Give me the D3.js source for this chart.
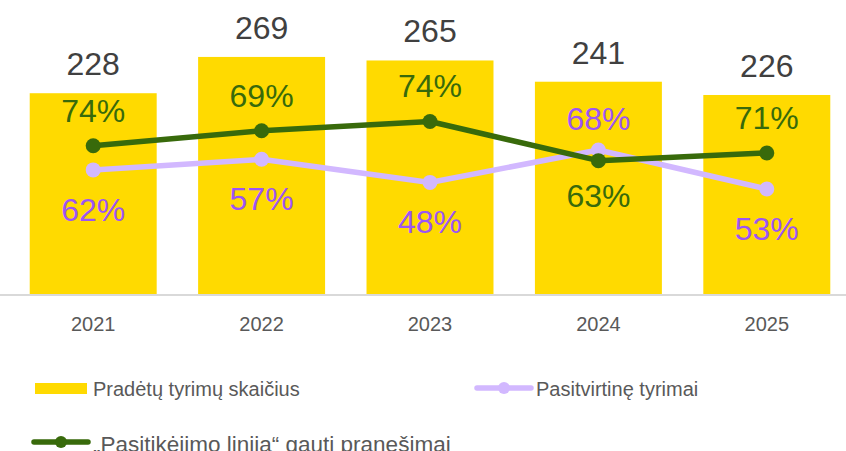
<!DOCTYPE html>
<html>
<head>
<meta charset="utf-8">
<script src="https://cdn.jsdelivr.net/npm/d3@7"></script>
<style>
  body { margin: 0; background: #fff; }
  svg { display: block; font-family: "Liberation Sans", Arial, sans-serif; }
</style>
</head>
<body>
<div id="wrapper"></div>
<script>
// data
const years = ["2021", "2022", "2023", "2024", "2025"]
const started = [228, 269, 265, 241, 226]
const trustLinePct = [74, 69, 74, 63, 71]
const confirmedPct = [62, 57, 48, 68, 53]

const legendLabels = {
  bars: "Pradėtų tyrimų skaičius",
  confirmed: "Pasitvirtinę tyrimai",
  trust: "„Pasitikėjimo linija“ gauti pranešimai"
}

const colors = {
  bar: "#FFDA00",
  green: "#386A0B",
  lavender: "#D2B8FF",
  purpleText: "#9C55F5",
  valueText: "#404040",
  axisText: "#595959",
  axisLine: "#D9D9D9"
}

const dimensions = { width: 846, height: 451, baseline: 295 }

const wrapper = d3.select("#wrapper")
  .append("svg")
    .attr("width", dimensions.width)
    .attr("height", dimensions.height)

// scales
const xScale = d3.scaleBand()
  .domain(years)
  .range([9, 851])
  .paddingInner(0.246)
  .paddingOuter(0.123)

const yScale = d3.scaleLinear()
  .domain([0, 300])
  .range([dimensions.baseline, 29.5])

const cx = y => xScale(y) + xScale.bandwidth() / 2

const rows = years.map((y, i) => ({
  year: y,
  total: started[i],
  trust: started[i] * trustLinePct[i] / 100,
  trustPct: trustLinePct[i],
  confirmed: started[i] * confirmedPct[i] / 100,
  confirmedPct: confirmedPct[i]
}))

// bars
wrapper.append("g").selectAll("rect")
  .data(rows)
  .enter().append("rect")
    .attr("x", d => xScale(d.year))
    .attr("y", d => yScale(d.total))
    .attr("width", xScale.bandwidth())
    .attr("height", d => yScale(0) - yScale(d.total))
    .attr("fill", colors.bar)

// x axis
const xAxis = wrapper.append("g")
  .attr("transform", `translate(0, ${dimensions.baseline})`)
  .call(d3.axisBottom(xScale).tickSize(0).tickPadding(22))
xAxis.select(".domain")
  .attr("stroke", colors.axisLine)
  .attr("stroke-width", 2)
  .attr("d", "M0,0H846")
xAxis.selectAll("text")
  .attr("fill", colors.axisText)
  .style("font-size", "20px")
  .style("font-family", "Liberation Sans, Arial, sans-serif")

// lines
const drawLine = (key, color) => {
  const line = d3.line()
    .x(d => cx(d.year))
    .y(d => yScale(d[key]))
  const g = wrapper.append("g")
  g.append("path")
    .datum(rows)
    .attr("d", line)
    .attr("fill", "none")
    .attr("stroke", color)
    .attr("stroke-width", 5.5)
    .attr("stroke-linejoin", "round")
  g.selectAll("circle")
    .data(rows)
    .enter().append("circle")
      .attr("cx", d => cx(d.year))
      .attr("cy", d => yScale(d[key]))
      .attr("r", 7.5)
      .attr("fill", color)
}
drawLine("confirmed", colors.lavender)
drawLine("trust", colors.green)

// labels
const labels = wrapper.append("g")
  .attr("text-anchor", "middle")
  .style("font-size", "32px")

labels.selectAll(".total")
  .data(rows)
  .enter().append("text")
    .attr("x", d => cx(d.year))
    .attr("y", d => yScale(d.total) - 18)
    .attr("fill", colors.valueText)
    .text(d => d.total)

// higher point gets the label above, lower point below
labels.selectAll(".trust")
  .data(rows)
  .enter().append("text")
    .attr("x", d => cx(d.year))
    .attr("y", d => d.trust >= d.confirmed
      ? yScale(d.trust) - 24
      : yScale(d.trust) + 46)
    .attr("fill", colors.green)
    .text(d => `${d.trustPct}%`)

labels.selectAll(".confirmed")
  .data(rows)
  .enter().append("text")
    .attr("x", d => cx(d.year))
    .attr("y", d => d.confirmed > d.trust
      ? yScale(d.confirmed) - 20
      : yScale(d.confirmed) + 51)
    .attr("fill", colors.purpleText)
    .text(d => `${d.confirmedPct}%`)

// legend
const legend = wrapper.append("g")
  .style("font-size", "20px")
  .attr("fill", colors.axisText)

legend.append("rect")
  .attr("x", 35).attr("y", 383)
  .attr("width", 52).attr("height", 11)
  .attr("fill", colors.bar)
legend.append("text")
  .attr("x", 93).attr("y", 396)
  .text(legendLabels.bars)

const legendLine = (x, y, color, label, size, dy) => {
  legend.append("line")
    .attr("x1", x).attr("x2", x + 54)
    .attr("y1", y).attr("y2", y)
    .attr("stroke", color)
    .attr("stroke-width", 5.5)
    .attr("stroke-linecap", "round")
  legend.append("circle")
    .attr("cx", x + 27).attr("cy", y)
    .attr("r", 6)
    .attr("fill", color)
  legend.append("text")
    .attr("x", x + 59).attr("y", y + dy)
    .style("font-size", size)
    .text(label)
}
legendLine(477, 388, colors.lavender, legendLabels.confirmed, "20px", 8)
legendLine(34, 442, colors.green, legendLabels.trust, "22.5px", 10)
</script>
</body>
</html>
